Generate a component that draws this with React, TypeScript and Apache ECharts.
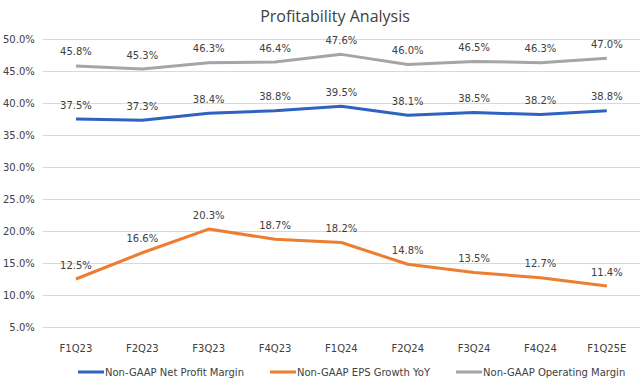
import React, { useEffect, useRef } from "react";
import * as echarts from "echarts";

const categories = ["F1Q23", "F2Q23", "F3Q23", "F4Q23", "F1Q24", "F2Q24", "F3Q24", "F4Q24", "F1Q25E"];
const netProfitMargin = [37.5, 37.3, 38.4, 38.8, 39.5, 38.1, 38.5, 38.2, 38.8];
const epsGrowth = [12.5, 16.6, 20.3, 18.7, 18.2, 14.8, 13.5, 12.7, 11.4];
const operatingMargin = [45.8, 45.3, 46.3, 46.4, 47.6, 46.0, 46.5, 46.3, 47.0];
const seriesNames = ["Non-GAAP Net Profit Margin", "Non-GAAP EPS Growth YoY", "Non-GAAP Operating Margin"];

const FONT = "DejaVu Sans";

export default function App() {
  const ref = useRef<HTMLDivElement>(null);
  useEffect(() => {
    if (!ref.current) return;
    const chart = echarts.init(ref.current, undefined, { renderer: "svg" });
    const label = {
      show: true,
      position: "top",
      distance: 9,
      color: "#404040",
      fontFamily: FONT,
      fontSize: 10,
      formatter: (p: any) => Number(p.value).toFixed(1) + "%",
    };
    const mk = (name: string, data: number[], color: string) => ({
      name,
      type: "line",
      data,
      symbol: "circle",
      symbolSize: 0,
      showSymbol: true,
      lineStyle: { color, width: 3 },
      itemStyle: { color },
      label,
      labelLayout: { hideOverlap: false },
    });
    chart.setOption({
      animation: false,
      backgroundColor: "#ffffff",
      title: {
        text: "Profitability Analysis",
        left: 330,
        textAlign: "center",
        top: 3,
        textStyle: { fontFamily: "Open Sans", fontSize: 16, fontWeight: "normal", color: "#404040" },
      },
      grid: { left: 39, top: 39, width: 612, height: 288, containLabel: false },
      xAxis: {
        type: "category",
        data: categories,
        boundaryGap: true,
        axisLine: { show: false },
        axisTick: { show: false },
        axisLabel: { color: "#404040", fontFamily: FONT, fontSize: 10, margin: 16, interval: 0 },
      },
      yAxis: {
        type: "value",
        min: 5,
        max: 50,
        interval: 5,
        axisLine: { show: false },
        axisTick: { show: false },
        splitLine: { lineStyle: { color: "#d9d9d9", width: 1 } },
        axisLabel: {
          color: "#404040",
          fontFamily: FONT,
          fontSize: 10,
          margin: 8,
          formatter: (v: number) => v.toFixed(1) + "%",
        },
      },
      legend: {
        data: seriesNames,
        left: 73,
        top: 362,
        icon: "rect",
        itemWidth: 26,
        itemHeight: 3,
        itemGap: 26,
        textStyle: { color: "#404040", fontFamily: FONT, fontSize: 10, padding: [0, 0, 0, -4] },
      },
      series: [
        mk(seriesNames[0], netProfitMargin, "#2F63BF"),
        mk(seriesNames[1], epsGrowth, "#ED7D31"),
        mk(seriesNames[2], operatingMargin, "#A5A5A5"),
      ],
    });
    return () => chart.dispose();
  }, []);
  return <div ref={ref} style={{ width: 640, height: 383, position: "absolute", left: 0, top: 0 }} />;
}
